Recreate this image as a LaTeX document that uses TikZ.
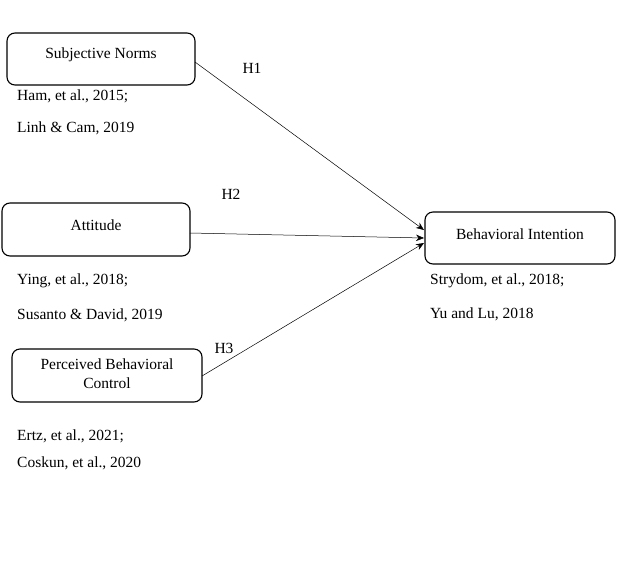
\documentclass[tikz,border=0pt]{standalone}
\usepackage{fontspec}
\setmainfont{Liberation Serif}
\usetikzlibrary{arrows.meta}
\begin{document}
\begin{tikzpicture}[x=1pt,y=-1pt,
  construct/.style={draw, line width=1.1pt, rounded corners=8pt, inner sep=0pt},
  boxtext/.style={align=center, inner sep=0pt, font=\fontsize{15.5}{19}\selectfont},
  cite/.style={anchor=west, inner sep=0pt, font=\fontsize{15.5}{18}\selectfont},
  hyp/.style={inner sep=0pt, font=\fontsize{15.5}{18}\selectfont},
  path/.style={line width=0.5pt, -{Stealth[length=8pt,width=6.5pt]}}]
\useasboundingbox (0,0) rectangle (624,563);
% constructs
\node[construct, minimum width=188pt, minimum height=52pt] (sn) at (101,59) {};
\node[construct, minimum width=188pt, minimum height=53pt] (att) at (96,229.5) {};
\node[construct, minimum width=190pt, minimum height=53pt] (pbc) at (107,375.5) {};
\node[construct, minimum width=190pt, minimum height=52pt] (bi) at (520,238) {};
\node[boxtext] (snt) at (101,55) {Subjective Norms};
\node[boxtext] (attt) at (96,225) {Attitude};
\node[boxtext] (pbct) at (107,373.5) {Perceived Behavioral\\Control};
\node[boxtext] (bit) at (520,234) {Behavioral Intention};
% anchor points on the box edges
\coordinate (snout) at (195,62);
\coordinate (attout) at (190,233);
\coordinate (pbcout) at (202,376);
\coordinate (bin1) at (424,230);
\coordinate (bin2) at (424,238);
\coordinate (bin3) at (424,243);
% hypothesised paths
\draw[path] (snout) -- (bin1);
\draw[path] (attout) -- (bin2);
\draw[path] (pbcout) -- (bin3);
\node[hyp] (h1) at (252,68) {H1};
\node[hyp] (h2) at (231,194) {H2};
\node[hyp] (h3) at (224,348) {H3};
% supporting references
\node[cite] (c1) at (17,96) {Ham, et al., 2015;};
\node[cite] (c2) at (17,128) {Linh \& Cam, 2019};
\node[cite] (c3) at (17,281) {Ying, et al., 2018;};
\node[cite] (c4) at (17,315) {Susanto \& David, 2019};
\node[cite] (c5) at (17,436) {Ertz, et al., 2021;};
\node[cite] (c6) at (17,463) {Coskun, et al., 2020};
\node[cite] (c7) at (430,281) {Strydom, et al., 2018;};
\node[cite] (c8) at (430,314) {Yu and Lu, 2018};
\end{tikzpicture}
\end{document}
